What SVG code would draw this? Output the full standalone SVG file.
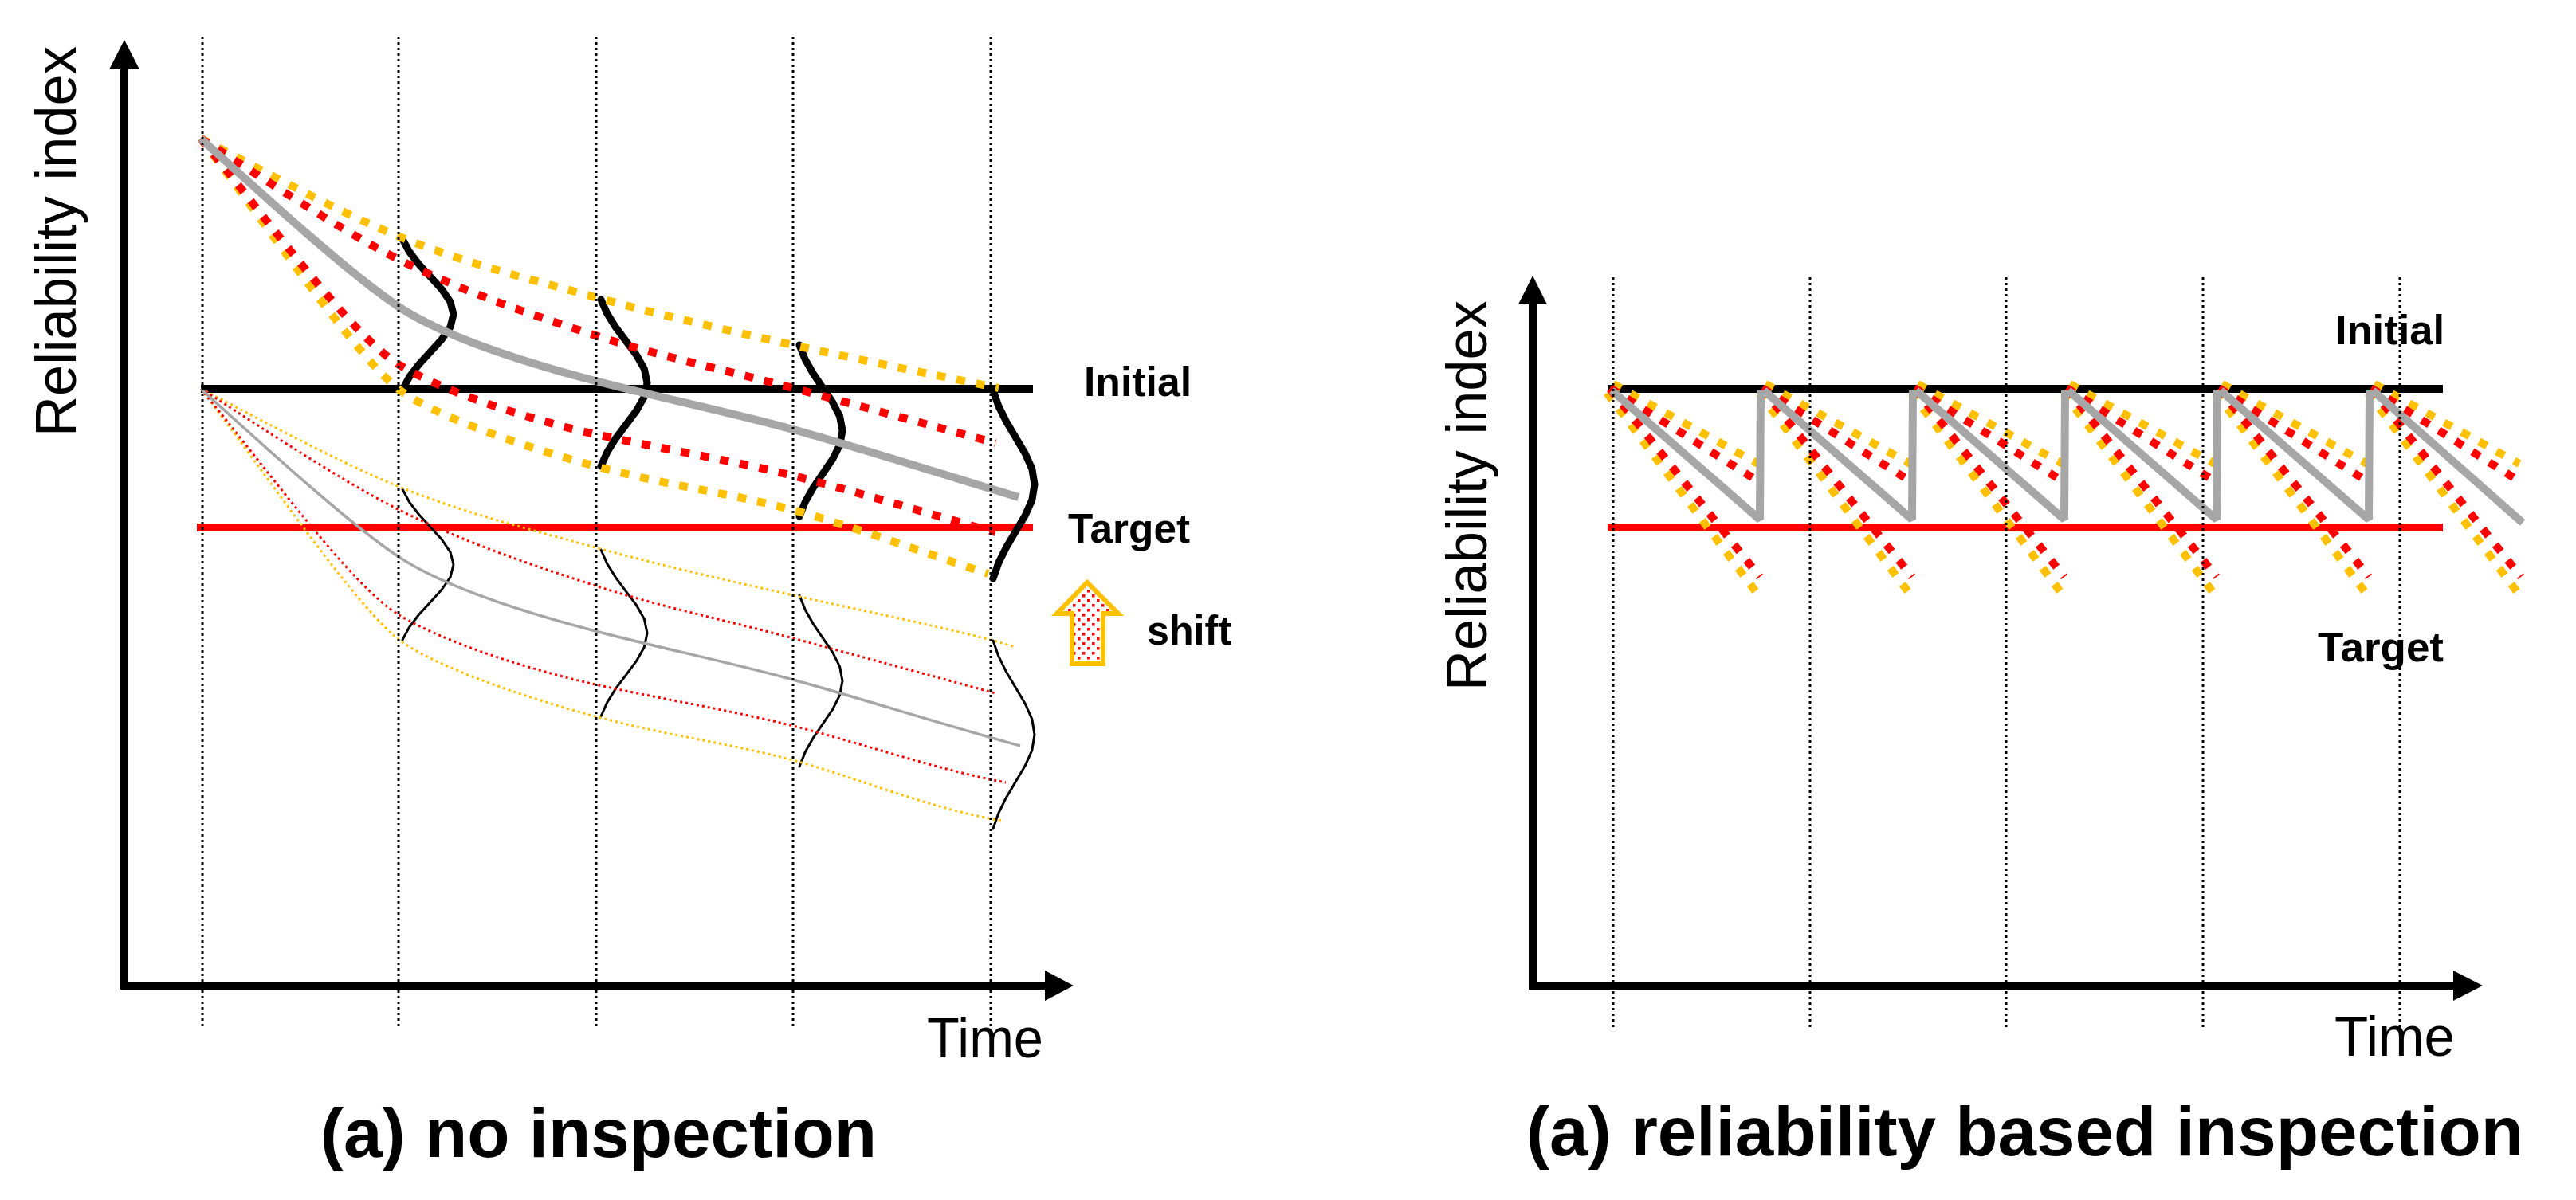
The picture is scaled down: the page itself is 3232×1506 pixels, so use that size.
<svg xmlns="http://www.w3.org/2000/svg" xmlns:xlink="http://www.w3.org/1999/xlink" width="3232" height="1506" viewBox="0 0 3232 1506">
<defs>
<style>
.txt{font-family:"Liberation Sans",Arial,sans-serif;fill:#000}
.lbl{font-family:"Liberation Sans",Arial,sans-serif;font-weight:bold;font-size:52px;fill:#000}
.ttl{font-family:"Liberation Sans",Arial,sans-serif;font-weight:bold;font-size:88px;fill:#000}
.vdot{stroke:#000;stroke-width:3;stroke-dasharray:3 4;fill:none}
.axis{stroke:#000;stroke-width:10;fill:none}
.lnI{stroke:#000;stroke-width:10;fill:none}
.lnT{stroke:#FF0000;stroke-width:10;fill:none}
.to{stroke:#FFC000;stroke-width:10;stroke-dasharray:11 14;fill:none}
.tr{stroke:#FF0000;stroke-width:10;stroke-dasharray:11 14;fill:none}
.tg{stroke:#A6A6A6;stroke-width:10;fill:none;stroke-linejoin:bevel}
.bell{stroke:#000;stroke-width:9;fill:none;stroke-linejoin:round;stroke-linecap:round}
.no{stroke:#FFC000;stroke-width:3;stroke-dasharray:3 4;fill:none}
.nr{stroke:#FF0000;stroke-width:3;stroke-dasharray:3 4;fill:none}
.ng{stroke:#A6A6A6;stroke-width:3.5;fill:none}
.nbell{stroke:#000;stroke-width:3;fill:none;stroke-linejoin:round;stroke-linecap:round}
</style>
<pattern id="dots" width="12" height="12" patternUnits="userSpaceOnUse">
<rect x="2" y="2" width="3.5" height="3.5" fill="#FF0000"/>
<rect x="8" y="8" width="3.5" height="3.5" fill="#FF0000"/>
</pattern>
<g id="tooth">
<line class="to" x1="4" y1="482" x2="186" y2="582"/>
<line class="tr" x1="0" y1="487" x2="186" y2="604"/>
<line class="to" x1="-4" y1="493" x2="190" y2="752"/>
<line class="tr" x1="0" y1="488" x2="188" y2="724"/>
</g>
</defs>
<rect width="3232" height="1506" fill="#fff"/>

<!-- ========== Panel (a) no inspection ========== -->
<g id="panel-no-inspection">
<g id="axes-left">
<line class="axis" x1="156" y1="1242" x2="156" y2="85"/>
<polygon points="137,87 156,50 175,87" fill="#000"/>
<line class="axis" x1="151" y1="1237" x2="1313" y2="1237"/>
<polygon points="1311,1218 1347,1237 1311,1256" fill="#000"/>
</g>
<g id="levels-left">
<line class="lnI" x1="252" y1="488" x2="1296" y2="488"/>
<line class="lnT" x1="247" y1="662" x2="1296" y2="662"/>
</g>
<g id="set-upper">
<polyline class="bell" points="505,300 513.4,315.8 525.4,331.5 539.9,347.3 554.2,363 565,378.8 569,394.5 565,410.3 554.2,426 539.9,441.8 525.4,457.5 513.4,473.3 505,489"/>
<polyline class="bell" points="754,376 761.7,393.4 772.5,410.8 785.6,428.3 798.6,445.7 808.4,463.1 812,480.5 808.4,497.9 798.6,515.3 785.6,532.8 772.5,550.2 761.7,567.6 754,585"/>
<polyline class="bell" points="1003,433 1010.1,450.9 1020.2,468.8 1032.4,486.8 1044.6,504.7 1053.6,522.6 1057,540.5 1053.6,558.4 1044.6,576.3 1032.4,594.3 1020.2,612.2 1010.1,630.1 1003,648"/>
<polyline class="bell" points="1246,490 1252.9,509.7 1262.6,529.3 1274.3,549 1286,568.7 1294.8,588.3 1298,608 1294.8,627.7 1286,647.3 1274.3,667 1262.6,686.7 1252.9,706.3 1246,726"/>
<path class="to" d="M252,174 C293.5,194.5 418.5,263.8 501,297 C583.5,330.2 664.7,350.3 747,373 C829.3,395.7 910.7,414 995,433 C1079.3,452 1210,478 1253,487"/>
<path class="tr" d="M252,174 C293.5,199.3 418.5,284.8 501,326 C583.5,367.2 664.7,394.2 747,421 C829.3,447.8 911.3,464.5 995,487 C1078.7,509.5 1206.7,544.5 1249,556"/>
<path class="to" d="M252,174 C330,275 450,454 505,492 C560,530 690,571 770,591 C850,611 920,620 995,640 C1075,662 1160,694 1240,720"/>
<path class="tr" d="M252,174 C330,268 441,422 501,458 C561,494 667,527 747,545 C827,562.6 915,577 995,597 C1075,617 1169,646 1249,668"/>
<path class="tg" d="M252,174 C330,245 442,347 502,386 C562,425 667,457 747,478 C827,499 915,517 995,539 C1075,561 1188,597 1278,624"/>
</g>
<g id="set-lower" transform="translate(0,314)">
<polyline class="nbell" points="505,300 513.4,315.8 525.4,331.5 539.9,347.3 554.2,363 565,378.8 569,394.5 565,410.3 554.2,426 539.9,441.8 525.4,457.5 513.4,473.3 505,489"/>
<polyline class="nbell" points="754,376 761.7,393.4 772.5,410.8 785.6,428.3 798.6,445.7 808.4,463.1 812,480.5 808.4,497.9 798.6,515.3 785.6,532.8 772.5,550.2 761.7,567.6 754,585"/>
<polyline class="nbell" points="1003,433 1010.1,450.9 1020.2,468.8 1032.4,486.8 1044.6,504.7 1053.6,522.6 1057,540.5 1053.6,558.4 1044.6,576.3 1032.4,594.3 1020.2,612.2 1010.1,630.1 1003,648"/>
<polyline class="nbell" points="1246,490 1252.9,509.7 1262.6,529.3 1274.3,549 1286,568.7 1294.8,588.3 1298,608 1294.8,627.7 1286,647.3 1274.3,667 1262.6,686.7 1252.9,706.3 1246,726"/>
<path class="no" d="M252,174 C293.5,194.5 418.5,263.8 501,297 C583.5,330.2 664.7,350.3 747,373 C829.3,395.7 910.7,414 995,433 C1079.3,452 1210,478 1274,498"/>
<path class="nr" d="M252,174 C293.5,199.3 418.5,284.8 501,326 C583.5,367.2 664.7,394.2 747,421 C829.3,447.8 911.3,464.5 995,487 C1078.7,509.5 1206.7,544.5 1249,556"/>
<path class="no" d="M252,174 C330,275 450,454 505,492 C560,530 690,571 770,591 C850,611 920,620 995,640 C1075,662 1170,702 1258,716"/>
<path class="nr" d="M252,174 C330,268 441,422 501,458 C561,494 667,527 747,545 C827,562.6 915,577 995,597 C1075,617 1180,653 1262,668"/>
<path class="ng" d="M252,174 C330,245 442,347 502,386 C562,425 667,457 747,478 C827,499 915,517 995,539 C1075,561 1188,597 1280,622"/>
</g>
<g id="time-grid-left">
<line class="vdot" x1="254" y1="46" x2="254" y2="1288"/>
<line class="vdot" x1="500" y1="46" x2="500" y2="1288"/>
<line class="vdot" x1="748" y1="46" x2="748" y2="1288"/>
<line class="vdot" x1="995" y1="46" x2="995" y2="1288"/>
<line class="vdot" x1="1243" y1="46" x2="1243" y2="1288"/>
</g>
<g id="shift-arrow">
<polygon points="1364,731 1403,770 1384,770 1384,833 1345,833 1345,770 1326,770" fill="url(#dots)" stroke="#FFC000" stroke-width="6"/>
</g>
<g id="labels-left">
<text class="txt" font-size="72" transform="translate(95,548) rotate(-90)" textLength="490" lengthAdjust="spacingAndGlyphs">Reliability index</text>
<text class="txt" font-size="70" x="1163" y="1327" textLength="146" lengthAdjust="spacingAndGlyphs">Time</text>
<text class="lbl" x="1360" y="497" textLength="135" lengthAdjust="spacingAndGlyphs">Initial</text>
<text class="lbl" x="1340" y="681" textLength="153" lengthAdjust="spacingAndGlyphs">Target</text>
<text class="lbl" x="1439" y="809" textLength="106" lengthAdjust="spacingAndGlyphs">shift</text>
<text class="ttl" x="402" y="1452" textLength="698" lengthAdjust="spacingAndGlyphs">(a) no inspection</text>
</g>
</g>

<!-- ========== Panel (b) reliability based inspection ========== -->
<g id="panel-rbi">
<g id="axes-right">
<line class="axis" x1="1923" y1="1242" x2="1923" y2="380"/>
<polygon points="1905,382 1923,346 1941,382" fill="#000"/>
<line class="axis" x1="1918" y1="1237" x2="3080" y2="1237"/>
<polygon points="3078,1218 3115,1237 3078,1256" fill="#000"/>
</g>
<g id="levels-right">
<line class="lnI" x1="2017" y1="488" x2="3065" y2="488"/>
<line class="lnT" x1="2017" y1="662" x2="3065" y2="662"/>
</g>
<g id="teeth">
<use xlink:href="#tooth" x="2020"/>
<use xlink:href="#tooth" x="2211"/>
<use xlink:href="#tooth" x="2402"/>
<use xlink:href="#tooth" x="2593"/>
<use xlink:href="#tooth" x="2784"/>
<use xlink:href="#tooth" x="2975"/>
<path class="tg" d="M2022,490 L2208,652 L2209,490 M2213,490 L2399,652 L2400,490 M2404,490 L2590,652 L2591,490 M2595,490 L2781,652 L2782,490 M2786,490 L2972,652 L2973,490 M2977,490 L3165,656"/>
</g>
<g id="time-grid-right">
<line class="vdot" x1="2024" y1="348" x2="2024" y2="1290"/>
<line class="vdot" x1="2271" y1="348" x2="2271" y2="1290"/>
<line class="vdot" x1="2517" y1="348" x2="2517" y2="1290"/>
<line class="vdot" x1="2764" y1="348" x2="2764" y2="1290"/>
<line class="vdot" x1="3011" y1="348" x2="3011" y2="1290"/>
</g>
<g id="labels-right">
<text class="txt" font-size="72" transform="translate(1865,867) rotate(-90)" textLength="490" lengthAdjust="spacingAndGlyphs">Reliability index</text>
<text class="txt" font-size="70" x="2929" y="1325" textLength="151" lengthAdjust="spacingAndGlyphs">Time</text>
<text class="lbl" x="2930" y="432" textLength="137" lengthAdjust="spacingAndGlyphs">Initial</text>
<text class="lbl" x="2908" y="830" textLength="158" lengthAdjust="spacingAndGlyphs">Target</text>
<text class="ttl" x="1915" y="1450" textLength="1251" lengthAdjust="spacingAndGlyphs">(a) reliability based inspection</text>
</g>
</g>
</svg>
